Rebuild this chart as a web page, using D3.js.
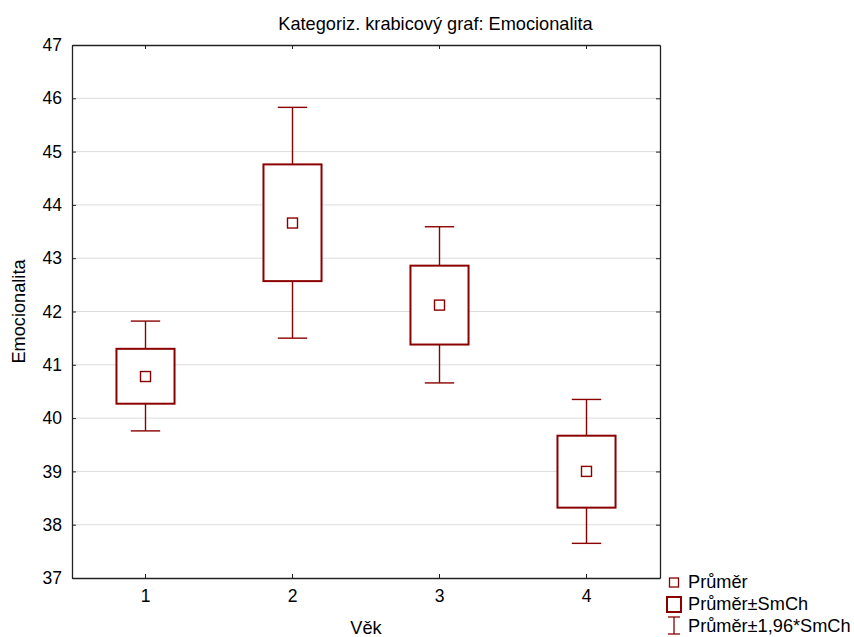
<!DOCTYPE html>
<html>
<head>
<meta charset="utf-8">
<script src="https://cdn.jsdelivr.net/npm/d3@7"></script>
<style>
  html, body { margin: 0; padding: 0; background: #fff; }
  svg { display: block; font-family: "Liberation Sans", Arial, sans-serif; }
</style>
</head>
<body>
<svg id="chart" width="854" height="637"></svg>
<script>
// Věkové skupiny a statistiky proměnné Emocionalita
const categories = ["1", "2", "3", "4"];
const means      = [40.78, 43.66, 42.12, 39.00];
const seLow      = [40.27, 42.57, 41.38, 38.32];
const seHigh     = [41.30, 44.76, 42.86, 39.67];
const ciLow      = [39.76, 41.50, 40.66, 37.65];
const ciHigh     = [41.82, 45.83, 43.59, 40.35];
const yTicks     = [37, 38, 39, 40, 41, 42, 43, 44, 45, 46, 47];
const legendLabels = ["Průměr", "Průměr±SmCh", "Průměr±1,96*SmCh"];

const rows = categories.map((c, i) => ({
  cat: c, mean: means[i], seLo: seLow[i], seHi: seHigh[i], ciLo: ciLow[i], ciHi: ciHigh[i]
}));

const color = "#8b0000";
const fs = 17.5;   // popisky os
const fsT = 18.2;  // nadpis a legenda
const svg = d3.select("#chart");
const m = { left: 72, right: 660, top: 45, bottom: 578 };

const x = d3.scaleBand().domain(categories).range([m.left, m.right]);
const y = d3.scaleLinear().domain([37, 47]).range([m.bottom, m.top]);

// mřížka
svg.append("g").selectAll("line").data(yTicks.slice(1, -1)).join("line")
  .attr("x1", m.left).attr("x2", m.right)
  .attr("y1", d => y(d)).attr("y2", d => y(d))
  .attr("stroke", "#dcdcdc").attr("stroke-width", 1);

// osy
const axisStyle = g => {
  g.selectAll(".domain").attr("stroke", "#222").attr("stroke-width", 1.3);
  g.selectAll(".tick line").attr("stroke", "#222");
  g.selectAll(".tick text").attr("fill", "#000").attr("font-size", fs)
    .attr("font-family", "Liberation Sans, Arial, sans-serif");
};
svg.append("g").attr("transform", `translate(${m.left},0)`)
  .call(d3.axisLeft(y).tickValues(yTicks).tickFormat(d3.format("d")).tickSizeInner(-4).tickSizeOuter(0).tickPadding(10))
  .call(axisStyle);
svg.append("g").attr("transform", `translate(${m.right},0)`)
  .call(d3.axisRight(y).tickValues(yTicks).tickSizeInner(-4).tickSizeOuter(0).tickFormat(""))
  .call(axisStyle);
svg.append("g").attr("transform", `translate(0,${m.bottom})`)
  .call(d3.axisBottom(x).tickSizeInner(-4).tickSizeOuter(0).tickPadding(12))
  .call(axisStyle);
svg.append("g").attr("transform", `translate(0,${m.top})`)
  .call(d3.axisTop(x).tickSizeInner(-4).tickSizeOuter(0).tickFormat(""))
  .call(axisStyle);

const boxW = x.bandwidth() * 0.395;
const capW = x.bandwidth() * 0.2;
const mk = 10;

const g = svg.append("g").selectAll("g").data(rows).join("g")
  .attr("transform", d => `translate(${x(d.cat) + x.bandwidth() / 2},0)`);

// vousy (±1,96*SmCh)
g.append("line").attr("x1", 0).attr("x2", 0)
  .attr("y1", d => y(d.ciHi)).attr("y2", d => y(d.seHi))
  .attr("stroke", color).attr("stroke-width", 1.4);
g.append("line").attr("x1", 0).attr("x2", 0)
  .attr("y1", d => y(d.seLo)).attr("y2", d => y(d.ciLo))
  .attr("stroke", color).attr("stroke-width", 1.4);
g.append("line").attr("x1", -capW / 2).attr("x2", capW / 2)
  .attr("y1", d => y(d.ciHi)).attr("y2", d => y(d.ciHi))
  .attr("stroke", color).attr("stroke-width", 1.4);
g.append("line").attr("x1", -capW / 2).attr("x2", capW / 2)
  .attr("y1", d => y(d.ciLo)).attr("y2", d => y(d.ciLo))
  .attr("stroke", color).attr("stroke-width", 1.4);

// krabice (±SmCh)
g.append("rect").attr("x", -boxW / 2).attr("width", boxW)
  .attr("y", d => y(d.seHi)).attr("height", d => y(d.seLo) - y(d.seHi))
  .attr("fill", "#fff").attr("stroke", color).attr("stroke-width", 2);

// průměr
g.append("rect").attr("x", -mk / 2).attr("width", mk)
  .attr("y", d => y(d.mean) - mk / 2).attr("height", mk)
  .attr("fill", "#fff").attr("stroke", color).attr("stroke-width", 1.4);

// titulky
svg.append("text").attr("x", 435.5).attr("y", 30).attr("text-anchor", "middle")
  .attr("font-size", fsT).text("Kategoriz. krabicový graf: Emocionalita");
svg.append("text").attr("x", (m.left + m.right) / 2).attr("y", 634).attr("text-anchor", "middle")
  .attr("font-size", fsT).text("Věk");
svg.append("text").attr("transform", `translate(25,${(m.top + m.bottom) / 2}) rotate(-90)`)
  .attr("text-anchor", "middle").attr("font-size", fsT).text("Emocionalita");

// legenda
const lg = svg.append("g");
const lx = 674;
lg.append("rect").attr("x", lx - 4.5).attr("y", 578).attr("width", 9).attr("height", 9)
  .attr("fill", "#fff").attr("stroke", color).attr("stroke-width", 1.3);
lg.append("rect").attr("x", lx - 7).attr("y", 597).attr("width", 14).attr("height", 15)
  .attr("fill", "#fff").attr("stroke", color).attr("stroke-width", 2);
lg.append("line").attr("x1", lx).attr("x2", lx).attr("y1", 617).attr("y2", 634)
  .attr("stroke", color).attr("stroke-width", 1.3);
lg.append("line").attr("x1", lx - 6).attr("x2", lx + 6).attr("y1", 617).attr("y2", 617)
  .attr("stroke", color).attr("stroke-width", 1.3);
lg.append("line").attr("x1", lx - 6).attr("x2", lx + 6).attr("y1", 634).attr("y2", 634)
  .attr("stroke", color).attr("stroke-width", 1.3);
lg.selectAll("text").data(legendLabels).join("text")
  .attr("x", 688).attr("y", (d, i) => 588 + i * 21.8)
  .attr("font-size", fsT).text(d => d);
</script>
</body>
</html>
